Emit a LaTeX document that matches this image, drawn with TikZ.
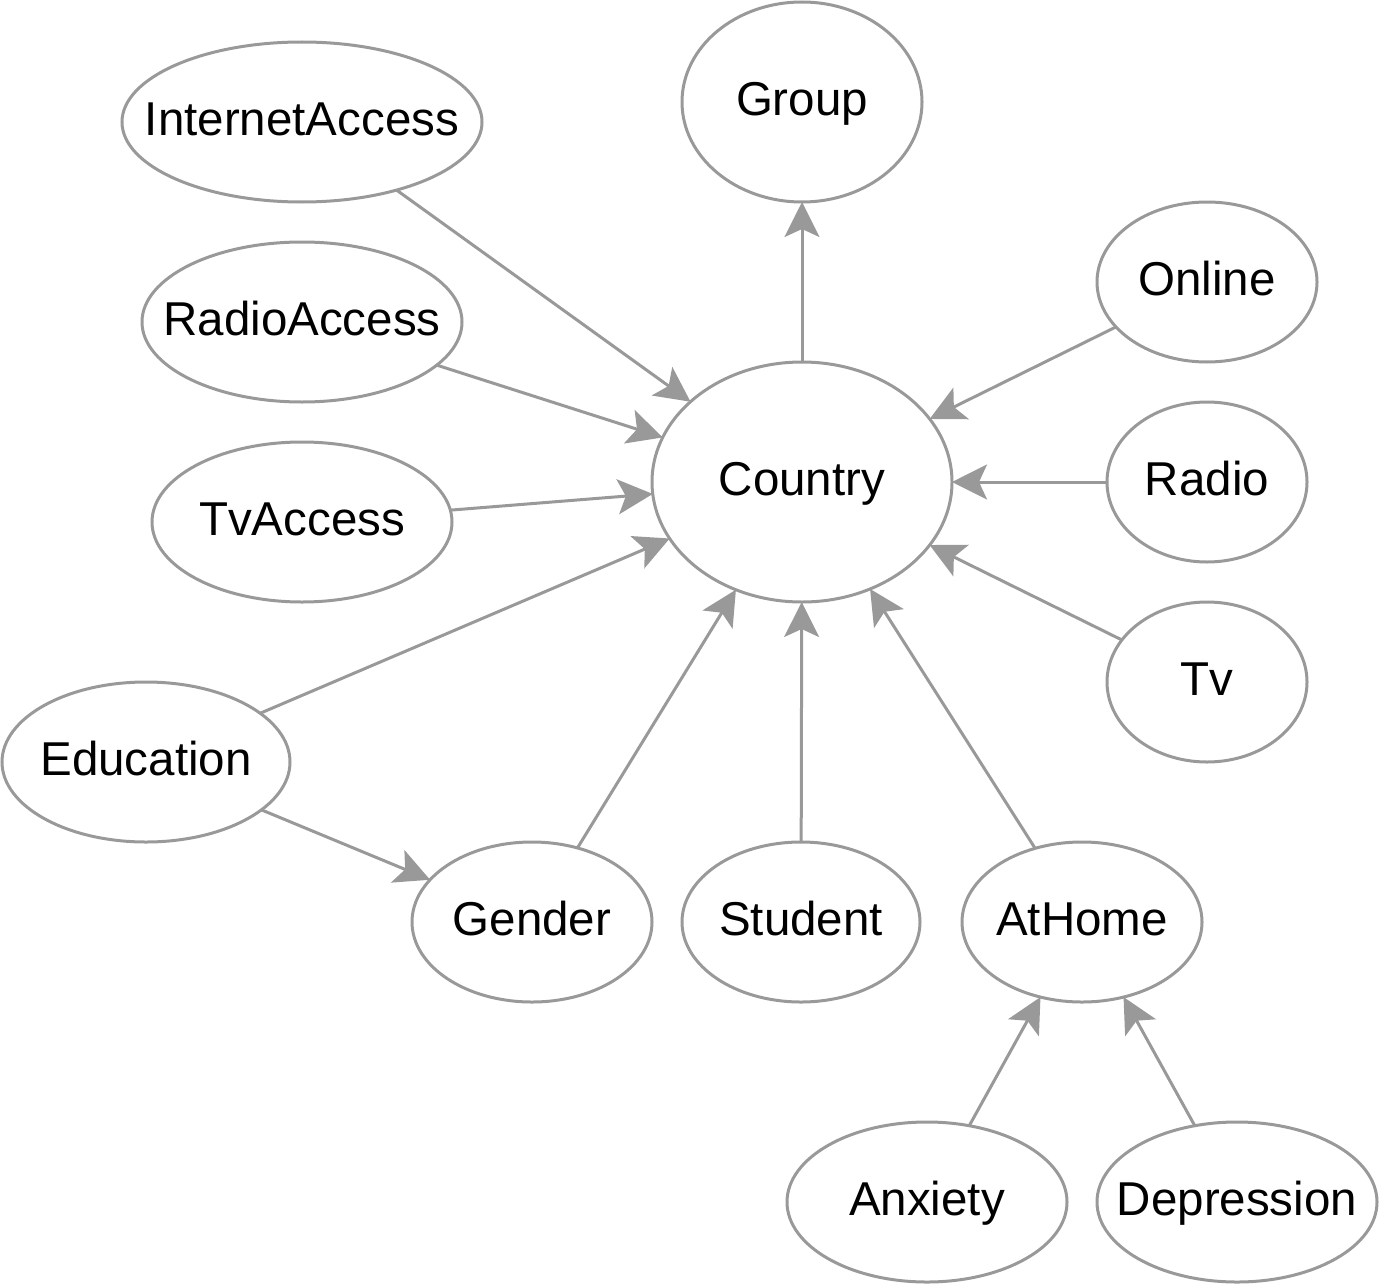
\documentclass[tikz,border=0pt]{standalone}
\usepackage{fontspec}
\setmainfont{Liberation Sans}
\usetikzlibrary{shapes.geometric,arrows.meta}
\definecolor{edgegray}{RGB}{153,153,153}
\begin{document}
\begin{tikzpicture}[x=0.5pt,y=-0.5pt,
  ell/.style={ellipse,draw=edgegray,line width=1.5pt,inner sep=0pt,outer sep=0pt,
    label={[font=\fontsize{23.75}{28}\selectfont,text=black,inner sep=0pt,
      text height=17pt,text depth=4pt]center:#1}},
  edge/.style={draw=edgegray,line width=1.5pt,
    -{Stealth[length=17.5pt,width=17.5pt,inset=4pt]}}]
\useasboundingbox (0,0) rectangle (1380,1284);
\node[ell=InternetAccess,minimum width=180pt,minimum height=80pt] (ia) at (302,122) {};
\node[ell=Group,minimum width=120pt,minimum height=100pt] (gr) at (802,102) {};
\node[ell=Online,minimum width=110pt,minimum height=80pt] (on) at (1207,282) {};
\node[ell=RadioAccess,minimum width=160pt,minimum height=80pt] (ra) at (302,322) {};
\node[ell=Country,minimum width=150pt,minimum height=120pt] (co) at (802,482) {};
\node[ell=Radio,minimum width=100pt,minimum height=80pt] (rd) at (1207,482) {};
\node[ell=TvAccess,minimum width=150pt,minimum height=80pt] (ta) at (302,522) {};
\node[ell=Tv,minimum width=100pt,minimum height=80pt] (tv) at (1207,682) {};
\node[ell=Education,minimum width=144pt,minimum height=80pt] (ed) at (146,762) {};
\node[ell=Gender,minimum width=120pt,minimum height=80pt] (ge) at (532,922) {};
\node[ell=Student,minimum width=119pt,minimum height=80pt] (st) at (801,922) {};
\node[ell=AtHome,minimum width=120pt,minimum height=80pt] (ah) at (1082,922) {};
\node[ell=Anxiety,minimum width=140pt,minimum height=80pt] (an) at (927,1202) {};
\node[ell=Depression,minimum width=140pt,minimum height=80pt] (de) at (1237,1202) {};
\draw[edge] (ia) -- (co);
\draw[edge] (ra) -- (co);
\draw[edge] (ta) -- (co);
\draw[edge] (ed) -- (co);
\draw[edge] (ge) -- (co);
\draw[edge] (st) -- (co);
\draw[edge] (ah) -- (co);
\draw[edge] (tv) -- (co);
\draw[edge] (rd) -- (co);
\draw[edge] (on) -- (co);
\draw[edge] (co) -- (gr);
\draw[edge] (ed) -- (ge);
\draw[edge] (an) -- (ah);
\draw[edge] (de) -- (ah);
\end{tikzpicture}
\end{document}
